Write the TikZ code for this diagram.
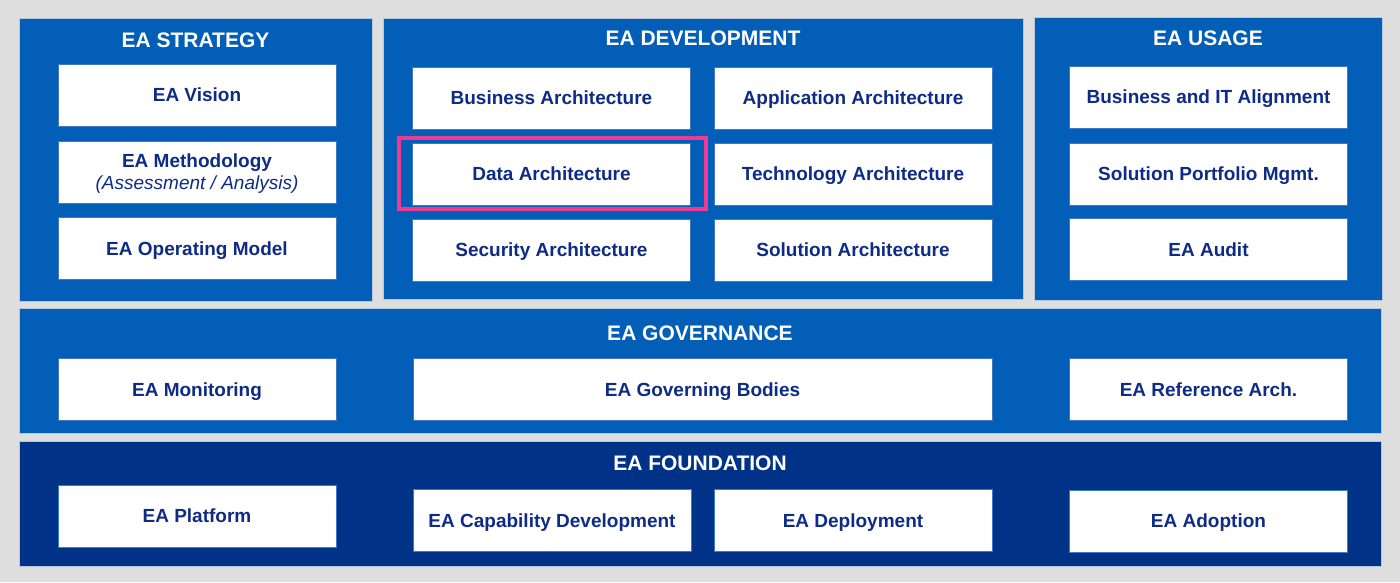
\documentclass[tikz,border=0pt]{standalone}
\usepackage{fontspec}
\setmainfont{Liberation Sans}
\usetikzlibrary{positioning}
\definecolor{bggray}{HTML}{DEDEDE}
\definecolor{eamid}{HTML}{035EB7}
\definecolor{eadark}{HTML}{003288}
\definecolor{eanavy}{HTML}{0E2B86}
\definecolor{paneledge}{HTML}{B9C6DA}
\definecolor{boxedge}{HTML}{3F78C4}
\definecolor{focuspink}{HTML}{EE3A92}

\begin{document}
\begin{tikzpicture}[x=1pt, y=-1pt,
  panel/.style={fill=eamid, draw=paneledge, line width=0.6pt, inner sep=0pt},
  darkpanel/.style={panel, fill=eadark},
  box/.style={fill=white, draw=boxedge, line width=0.4pt, text=eanavy, inner sep=0pt, align=center,
    minimum width=278pt, minimum height=62pt, text height=13.6pt, text depth=0pt,
    font=\bfseries\fontsize{19}{22}\selectfont},
  title/.style={text=white, inner sep=0pt, text height=15pt, text depth=0pt,
    font=\bfseries\fontsize{21}{24}\selectfont}]
\fill[bggray] (0,0) rectangle (1400,582);
\useasboundingbox (0,0) rectangle (1400,582);

% top row
\node[panel, minimum width=353pt, minimum height=283pt] (strategy) at (195.5,159.5) {};
\node[panel, minimum width=640pt, minimum height=281pt] (development) at (703,158.5) {};
\node[panel, minimum width=348pt, minimum height=283pt] (usage) at (1208,158.5) {};
\node[title] (strategytitle) at (195.5,39.5) {EA STRATEGY};
\node[title] (developmenttitle) at (703,38) {EA DEVELOPMENT};
\node[title] (usagetitle) at (1208,37.5) {EA USAGE};

\node[box] (vision) at (197,95) {EA Vision};
\node[box, text height=35.6pt] (methodology) at (197,172) {EA Methodology\\{\normalfont\itshape (Assessment / Analysis)}};
\node[box] (operating) at (197,248.5) {EA Operating Model};

\node[box] (business) at (551.5,98) {Business Architecture};
\node[box] (application) at (853,98) {Application Architecture};
\node[box] (data) at (551.5,174) {Data Architecture};
\node[box] (technology) at (853,174) {Technology Architecture};
\node[box] (security) at (551.5,250) {Security Architecture};
\node[box] (solution) at (853,250) {Solution Architecture};
\node[draw=focuspink, line width=4pt, minimum width=307pt, minimum height=71pt, inner sep=0pt] (focus) at (552.5,173.5) {};

\node[box] (alignment) at (1208.5,97) {Business and IT Alignment};
\node[box] (portfolio) at (1208.5,174) {Solution Portfolio Mgmt.};
\node[box] (audit) at (1208.5,249.5) {EA Audit};

% governance
\node[panel, minimum width=1362pt, minimum height=125pt] (governance) at (700.5,370.5) {};
\node[title] (governancetitle) at (700,333) {EA GOVERNANCE};
\node[box] (monitoring) at (197,389.5) {EA Monitoring};
\node[box, minimum width=579pt] (bodies) at (702.5,389.5) {EA Governing Bodies};
\node[box] (reference) at (1208.5,389.5) {EA Reference Arch.};

% foundation
\node[darkpanel, minimum width=1362pt, minimum height=125pt] (foundation) at (700.5,503.5) {};
\node[title] (foundationtitle) at (700,463) {EA FOUNDATION};
\node[box] (platform) at (197,516) {EA Platform};
\node[box] (capability) at (552,520.5) {EA Capability Development};
\node[box] (deployment) at (853,520.5) {EA Deployment};
\node[box] (adoption) at (1208.5,521) {EA Adoption};

\end{tikzpicture}
\end{document}
